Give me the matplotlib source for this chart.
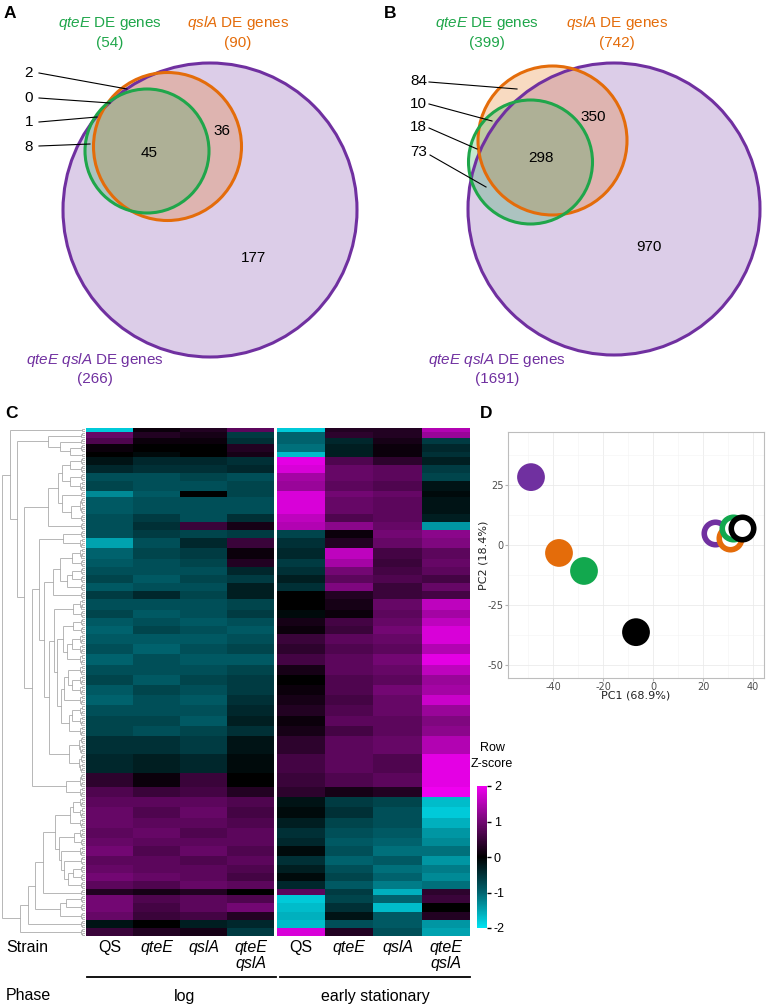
import numpy as np
import matplotlib
matplotlib.use('Agg')
import matplotlib.pyplot as plt
from matplotlib.patches import Circle
from matplotlib.colors import LinearSegmentedColormap, Normalize
from matplotlib.collections import LineCollection
from matplotlib.cm import ScalarMappable
from matplotlib import font_manager

plt.rcParams['font.family'] = ['Liberation Sans', 'DejaVu Sans']
plt.rcParams['mathtext.fontset'] = 'custom'
plt.rcParams['mathtext.rm'] = 'Liberation Sans'
plt.rcParams['mathtext.it'] = 'Liberation Sans:italic'
plt.rcParams['axes.unicode_minus'] = False

_names = {f.name for f in font_manager.fontManager.ttflist}
NARROW = 'Liberation Sans Narrow' if 'Liberation Sans Narrow' in _names else 'Liberation Sans'

# ---------------- data ----------------
venn_a_totals = [54, 90, 266]          # qteE, qslA, qteE qslA
venn_a_side = [2, 0, 1, 8]
venn_a_inner = [45, 36, 177]
venn_b_totals = [399, 742, 1691]
venn_b_side = [84, 10, 18, 73]
venn_b_inner = [298, 350, 970]

strain_labels = ['QS', 'qteE', 'qslA', 'qteE\nqslA']
phase_labels = ['log', 'early stationary']

# heatmap bands: number of rows, then z-scores for
# log QS, log qteE, log qslA, log qteE qslA, stat QS, stat qteE, stat qslA, stat qteE qslA
band_rows = [2, 3, 3, 4, 2, 4, 4, 4, 5, 3, 8, 4, 4, 4, 5, 5, 4,
             4, 4, 4, 4, 5, 4, 4, 4, 5, 5, 5, 5, 5, 5, 5, 5, 5, 5,
             9, 9, 7, 5, 5, 5, 5, 5, 4, 5, 4, 4, 4, 4,
             3, 4, 4, 4, 4, 4]
band_values = [
    [-1.8, 0.1, 0.3, 0.8, -1.8, 0.3, 0.3, 1.5],
    [0.9, 0.3, 0.2, -0.6, -1.0, 0.4, 0.3, 1.3],
    [0.7, 0.1, 0.1, -0.5, -1.0, -0.4, 0.2, -0.6],
    [0.1, 0.0, 0.0, 0.3, -1.1, -0.3, 0.1, -0.4],
    [0.0, -0.1, 0.0, 0.2, -1.7, -0.3, 0.1, -0.5],
    [-0.2, -0.4, -0.4, -0.5, 1.9, 0.7, 0.4, -0.3],
    [-0.4, -0.5, -0.5, -0.4, 1.8, 0.9, 0.8, -0.6],
    [-0.8, -0.8, -0.7, -0.8, 1.4, 0.9, 0.8, -0.7],
    [-0.7, -0.8, -0.8, -0.7, 1.3, 0.8, 0.7, -0.2],
    [-1.3, -0.9, 0.0, -0.7, 1.8, 1.0, 0.9, -0.1],
    [-0.9, -0.8, -0.8, -0.8, 1.8, 0.9, 0.8, -0.2],
    [-0.8, -0.6, -0.8, -0.5, 1.6, 0.7, 0.8, -0.3],
    [-0.8, -0.5, 0.5, 0.2, 1.5, 1.2, 0.9, -1.4],
    [-0.8, -0.6, -0.7, -0.6, -0.7, 0.1, 1.0, 1.2],
    [-1.5, -0.8, -0.4, 0.5, -0.5, 0.3, 0.9, 1.1],
    [-1.0, -0.7, -0.6, 0.1, -0.4, 1.6, 0.6, 0.8],
    [-0.9, -0.8, -0.7, 0.3, -0.6, 1.4, 0.5, 0.9],
    [-0.8, -0.8, -0.8, -0.4, -0.5, 1.0, 0.6, 0.8],
    [-0.7, -0.9, -0.7, -0.6, -0.3, 0.8, 0.7, 0.6],
    [-0.9, -0.8, -0.8, -0.3, -0.5, 1.1, 0.5, 0.9],
    [-0.6, -0.4, -0.7, -0.3, 0.0, 0.3, 0.5, 0.6],
    [-0.8, -0.8, -0.8, -0.7, 0.0, 0.2, 0.9, 1.6],
    [-0.7, -0.9, -0.8, -0.6, -0.1, 0.1, 0.8, 1.4],
    [-0.9, -0.8, -0.9, -0.8, 0.2, 0.6, 0.9, 1.6],
    [-1.0, -0.7, -0.8, -0.9, 0.1, 0.5, 1.0, 1.8],
    [-0.9, -0.9, -0.9, -0.8, 0.5, 0.8, 0.9, 1.8],
    [-0.8, -1.0, -0.8, -0.7, 0.4, 0.7, 0.8, 1.5],
    [-1.0, -0.8, -0.9, -0.9, 0.6, 0.8, 1.0, 1.9],
    [-0.8, -0.8, -0.8, -0.7, 0.2, 0.8, 0.9, 1.6],
    [-0.7, -0.9, -0.7, -0.6, 0.0, 0.7, 0.8, 1.3],
    [-0.9, -0.7, -0.8, -0.6, 0.1, 0.7, 1.0, 1.4],
    [-1.0, -0.8, -0.9, -0.5, 0.2, 0.6, 0.9, 1.7],
    [-0.8, -0.8, -0.8, -0.4, 0.3, 0.7, 0.9, 1.3],
    [-0.7, -0.7, -0.9, -0.3, 0.1, 0.8, 0.8, 1.1],
    [-0.7, -0.8, -0.7, -0.5, 0.2, 0.6, 0.8, 1.2],
    [-0.5, -0.5, -0.6, -0.2, 0.4, 0.8, 0.9, 1.5],
    [-0.4, -0.3, -0.4, -0.1, 0.6, 0.8, 0.7, 1.9],
    [0.4, 0.1, 0.5, 0.0, 0.5, 0.7, 0.8, 1.9],
    [0.7, 0.5, 0.6, 0.3, 0.4, 0.2, 0.3, 2.0],
    [0.8, 0.8, 0.8, 0.7, -0.2, -0.6, -0.7, -1.7],
    [0.9, 0.7, 0.9, 0.6, -0.1, -0.5, -0.8, -1.8],
    [0.9, 0.8, 0.8, 0.7, -0.3, -0.7, -0.8, -1.6],
    [0.8, 0.9, 0.7, 0.8, -0.5, -0.8, -0.9, -1.4],
    [0.9, 0.8, 0.8, 0.8, -0.4, -0.9, -1.0, -1.3],
    [1.0, 0.7, 0.9, 0.7, -0.1, -0.8, -1.1, -1.1],
    [0.8, 0.8, 0.7, 0.8, -0.5, -1.0, -0.9, -1.4],
    [0.9, 0.8, 0.8, 0.7, -0.3, -0.8, -1.1, -1.2],
    [1.0, 0.9, 0.8, 0.6, -0.1, -0.7, -1.0, -1.3],
    [0.8, 0.7, 0.9, 0.8, -0.4, -0.9, -1.2, -1.1],
    [0.3, 0.2, 0.3, 0.0, 0.8, -0.6, -1.6, 0.4],
    [1.0, 0.7, 0.8, 0.7, -1.8, -0.7, -1.0, 0.5],
    [1.0, 0.6, 0.8, 1.0, -1.7, -0.5, -1.7, 0.0],
    [0.9, 0.5, 0.6, 0.3, -1.6, -0.2, -0.9, 0.3],
    [-0.2, 0.0, -0.3, -0.4, -1.7, -0.8, -0.9, -1.4],
    [0.5, 0.3, 0.2, -0.6, 1.8, 0.3, -0.8, -1.5],
]

pca_pc1 = [-48.8, -37.6, -27.6, -6.8, 24.8, 30.8, 32.0, 35.6]
pca_pc2 = [28.3, -3.3, -10.8, -36.3, 5.0, 2.9, 7.0, 7.0]
pca_strain = ['qteE qslA', 'qslA', 'qteE', 'QS', 'qteE qslA', 'qslA', 'qteE', 'QS']
pca_phase = ['log', 'log', 'log', 'log', 'stat', 'stat', 'stat', 'stat']

# ---------------- style ----------------
GREEN = '#1fa64a'
ORANGE = '#e46c0a'
PURPLE = '#7030a0'
LAVENDER = '#dccde8'
strain_colors = {'QS': 'black', 'qteE': '#12a84e', 'qslA': '#e46c0a', 'qteE qslA': '#7030a0'}

W, H = 767, 1006
fig = plt.figure(figsize=(W / 100, H / 100), dpi=100)


def fa(x0, y0, x1, y1):
    return [x0 / W, 1 - y1 / H, (x1 - x0) / W, (y1 - y0) / H]


ax0 = fig.add_axes([0, 0, 1, 1])
ax0.set_xlim(0, W)
ax0.set_ylim(H, 0)
ax0.axis('off')

FS = 11


def venn(ax, purple, orange, green, totals, side, side_pos, side_targets, inner, inner_pos,
         lab_green, lab_orange, lab_purple):
    ax.add_patch(Circle(purple[:2], purple[2], facecolor=LAVENDER, edgecolor='none', zorder=1))
    ax.add_patch(Circle(orange[:2], orange[2], facecolor=ORANGE, alpha=0.25, edgecolor='none', zorder=2))
    ax.add_patch(Circle(green[:2], green[2], facecolor=GREEN, alpha=0.25, edgecolor='none', zorder=3))
    ax.add_patch(Circle(purple[:2], purple[2], facecolor='none', edgecolor=PURPLE, lw=2.2, zorder=4))
    ax.add_patch(Circle(orange[:2], orange[2], facecolor='none', edgecolor=ORANGE, lw=2.2, zorder=5))
    ax.add_patch(Circle(green[:2], green[2], facecolor='none', edgecolor=GREEN, lw=2.2, zorder=6))
    for v, (tx, ty), (lx0, ly0, lx1, ly1) in zip(side, side_pos, side_targets):
        ax.text(tx, ty, str(v), ha='right', va='center', fontsize=FS, zorder=8)
        ax.plot([lx0, lx1], [ly0, ly1], color='black', lw=0.8, zorder=8)
    for v, (tx, ty) in zip(inner, inner_pos):
        ax.text(tx, ty, str(v), ha='center', va='center', fontsize=FS, zorder=8)
    gx, gy = lab_green
    ax.text(gx, gy, r'$\mathit{qteE}$ DE genes', color=GREEN, ha='center', va='center', fontsize=FS)
    ax.text(gx, gy + 20, f'({totals[0]})', color=GREEN, ha='center', va='center', fontsize=FS)
    ox, oy = lab_orange
    ax.text(ox, oy, r'$\mathit{qslA}$ DE genes', color=ORANGE, ha='center', va='center', fontsize=FS)
    ax.text(ox, oy + 20, f'({totals[1]})', color=ORANGE, ha='center', va='center', fontsize=FS)
    px, py = lab_purple
    ax.text(px, py, r'$\mathit{qteE}$ $\mathit{qslA}$ DE genes', color=PURPLE, ha='center', va='center', fontsize=FS)
    ax.text(px, py + 19, f'({totals[2]})', color=PURPLE, ha='center', va='center', fontsize=FS)


# Panel A
venn(ax0, (210, 210, 147), (167.5, 146.5, 74), (147, 151, 62),
     venn_a_totals, venn_a_side,
     [(33, 73), (33, 98), (33, 122), (33, 147)],
     [(39, 73, 127, 89), (39, 98, 110, 103), (39, 122, 97, 117), (39, 146, 90, 144)],
     venn_a_inner, [(149, 153), (222, 131), (253, 258)],
     (110, 23), (238, 23), (95, 360))

# Panel B
venn(ax0, (614, 209, 146), (552.5, 140.5, 74.5), (530.5, 162, 62),
     venn_b_totals, venn_b_side,
     [(427, 81), (427, 104), (427, 127), (427, 152)],
     [(429, 82, 517, 89), (429, 104, 492, 121), (429, 128, 477, 149), (430, 155, 486, 187)],
     venn_b_inner, [(541, 158), (593, 117), (649, 247)],
     (487, 23), (617, 23), (497, 360))

for lbl, (x, y) in zip(['A', 'B', 'C', 'D'], [(10, 13), (390, 13), (11, 413), (486, 413)]):
    ax0.text(x, y, lbl, fontsize=12.5, fontweight='bold', ha='center', va='center')

# ---------------- heatmap ----------------
heat = np.repeat(np.array(band_values, dtype=float), band_rows, axis=0)
nrows = heat.shape[0]
cmap = LinearSegmentedColormap.from_list('zs', ['#00e3f2', '#00636e', '#000000', '#720872', '#f000f0'])
norm = Normalize(-2, 2)

HT, HB = 428, 936
ax_log = fig.add_axes(fa(86, HT, 274, HB))
ax_st = fig.add_axes(fa(277, HT, 470, HB))
for ax, sl in ((ax_log, slice(0, 4)), (ax_st, slice(4, 8))):
    ax.imshow(heat[:, sl], aspect='auto', cmap=cmap, norm=norm, interpolation='nearest')
    ax.set_axis_off()


# dendrogram (ordered agglomerative clustering of the rows)
def ordered_linkage(X):
    cl = [dict(n=1, c=X[i].copy(), h=0.0, y=i + 0.5) for i in range(len(X))]
    segs = []
    while len(cl) > 1:
        best = None
        for k in range(len(cl) - 1):
            a, b = cl[k], cl[k + 1]
            d = float(np.linalg.norm(a['c'] - b['c']))
            key = (round(d, 9), a['n'] + b['n'])
            if best is None or key < best[0]:
                best = (key, k, d)
        _, k, d = best
        a, b = cl[k], cl[k + 1]
        h = max(a['h'], b['h']) + d + 0.03
        segs.append((a['h'], b['h'], h, a['y'], b['y']))
        n = a['n'] + b['n']
        cl[k:k + 2] = [dict(n=n, c=(a['c'] * a['n'] + b['c'] * b['n']) / n, h=h,
                            y=(a['y'] + b['y']) / 2)]
    return segs, cl[0]['h']


merges, root_h = ordered_linkage(heat)
# drawn on a square-root distance scale so the fine structure near the leaves is visible
lines = []
for ha_, hb_, h, ya, yb in merges:
    sa, sb, s = np.sqrt(ha_), np.sqrt(hb_), np.sqrt(h)
    lines += [[(sa, ya), (s, ya)], [(sb, yb), (s, yb)], [(s, ya), (s, yb)]]
ax_d = fig.add_axes(fa(2, HT, 85, HB))
ax_d.add_collection(LineCollection(lines, colors='#9a9a9a', linewidths=0.5))
ax_d.set_xlim(np.sqrt(root_h), 0)
ax_d.set_ylim(nrows, 0)
ax_d.set_axis_off()

# strain / phase labels
log_centers = [86 + 47 * (i + 0.5) for i in range(4)]
st_centers = [277 + 48.25 * (i + 0.5) for i in range(4)]
LFS = 11.5
ax0.text(6, 947, 'Strain', fontsize=LFS, family=NARROW, ha='left', va='center')
ax0.text(6, 996, 'Phase', fontsize=LFS, family=NARROW, ha='left', va='center')
for centers in (log_centers, st_centers):
    for x, lab in zip(centers, strain_labels):
        style = 'normal' if lab == 'QS' else 'italic'
        ax0.text(x, 940, lab, fontsize=LFS, family=NARROW, style=style, ha='center', va='top',
                 linespacing=1.1)
ax0.plot([87, 276], [977, 977], color='black', lw=1.3)
ax0.plot([280, 470], [977, 977], color='black', lw=1.3)
ax0.text(185, 996, phase_labels[0], fontsize=LFS, family=NARROW, ha='center', va='center')
ax0.text(375, 996, phase_labels[1], fontsize=LFS, family=NARROW, ha='center', va='center')

# colorbar
cax = fig.add_axes(fa(477, 786, 487, 928))
cb = fig.colorbar(ScalarMappable(norm=norm, cmap=cmap), cax=cax, ticks=[-2, -1, 0, 1, 2])
cb.outline.set_visible(False)
cax.tick_params(length=3, width=1, labelsize=9, pad=2)
for t in cax.get_yticklabels():
    t.set_family(NARROW)
ax0.text(492, 748, 'Row', fontsize=9, family=NARROW, ha='center', va='center')
ax0.text(492, 764, 'Z-score', fontsize=9, family=NARROW, ha='center', va='center')

# ---------------- PCA ----------------
axp = fig.add_axes(fa(508, 432, 764, 678))
axp.set_xlim(-58, 44.4)
axp.set_ylim(-55.4, 47.1)
axp.set_xticks([-40, -20, 0, 20, 40])
axp.set_yticks([-50, -25, 0, 25])
axp.set_xticks([-50, -30, -10, 10, 30], minor=True)
axp.set_yticks([-37.5, -12.5, 12.5, 37.5], minor=True)
axp.grid(which='major', color='#ebebeb', lw=0.6)
axp.grid(which='minor', color='#f4f4f4', lw=0.4)
axp.set_axisbelow(True)
axp.tick_params(which='minor', length=0)
axp.tick_params(which='major', length=2, color='#b3b3b3', labelsize=7, labelcolor='#4d4d4d', pad=1)
for t in axp.get_xticklabels() + axp.get_yticklabels():
    t.set_family('DejaVu Sans')
for s in axp.spines.values():
    s.set_color('#bdbdbd')
    s.set_linewidth(0.8)
for x, y, st, ph in zip(pca_pc1, pca_pc2, pca_strain, pca_phase):
    c = strain_colors[st]
    if ph == 'log':
        axp.scatter([x], [y], s=400, color=c, edgecolors='none', zorder=3)
    else:
        axp.scatter([x], [y], s=262, facecolors='white', edgecolors=c, linewidths=4, zorder=3)
axp.set_xlabel('PC1 (68.9%)', fontsize=8, family='DejaVu Sans', color='#222222')
axp.set_ylabel('PC2 (18.4%)', fontsize=8, family='DejaVu Sans', color='#222222')
axp.xaxis.set_label_coords(0.5, -0.05)
axp.yaxis.set_label_coords(-0.075, 0.5)

fig.savefig('out.png', dpi=100)
